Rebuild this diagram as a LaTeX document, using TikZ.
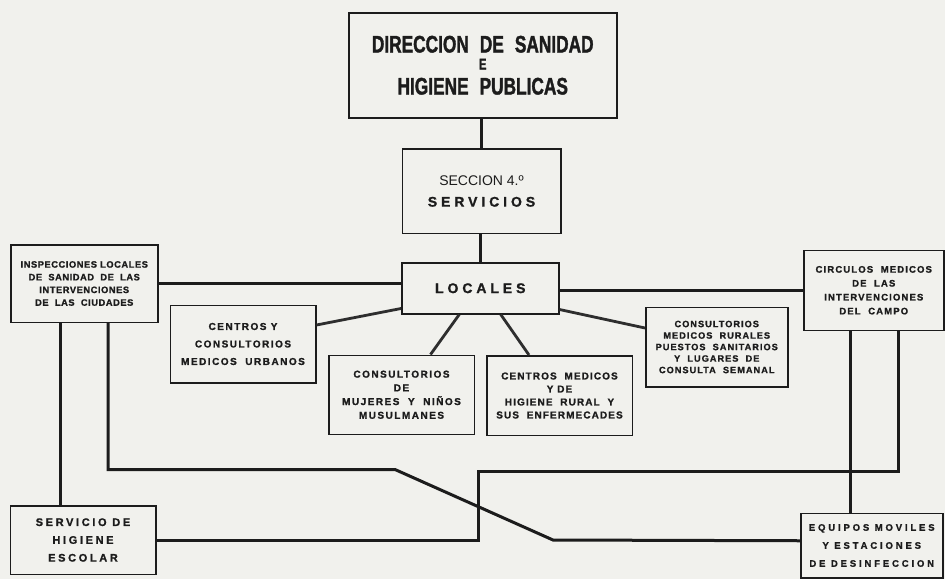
\documentclass[tikz,border=0pt]{standalone}
\usepackage{fontspec}
\setmainfont{Liberation Sans}
\newfontfamily\condfont[FakeStretch=0.72]{Liberation Sans}
\usetikzlibrary{calc}
\definecolor{ink}{RGB}{28,28,28}
\definecolor{paper}{RGB}{241,241,237}
\newcommand{\fs}[3]{\fontsize{#1}{#2}\selectfont\addfontfeatures{LetterSpace=#3,FakeBold=1.2}}
\begin{document}
\begin{tikzpicture}[x=1pt,y=-1pt,
  box/.style={draw=ink, line width=1.5pt, fill=paper, rectangle, anchor=north west,
              align=center, inner sep=0pt, text=ink},
  conn/.style={draw=ink, line width=3pt, line join=miter},
  spoke/.style={draw=ink!92, line width=2.8pt}]
\fill[paper] (0,0) rectangle (945,579);
\useasboundingbox (0,0) rectangle (945,579);

% boxes
\node[box, minimum width=268pt, minimum height=105pt,
      font=\condfont\bfseries\fontsize{24}{26}\selectfont\addfontfeatures{FakeBold=1.5}] (top) at (348,12)
  {DIRECCION\hspace{11pt}DE\hspace{11pt}SANIDAD\\[-9pt]{\fontsize{15.5}{12}\selectfont E}\\[-1pt]HIGIENE\hspace{11pt}PUBLICAS};
\node[box, minimum width=158.5pt, minimum height=84.5pt,
      font=\fontsize{14}{21.6}\selectfont] (sec) at (401.5,148)
  {SECCION 4.º\\{\bfseries\addfontfeatures{LetterSpace=28,FakeBold=1}SERVICIOS}};
\node[box, minimum width=157pt, minimum height=51pt,
      font=\bfseries\fs{14}{16}{28}] (loc) at (401,262) {LOCALES};
\node[box, minimum width=147pt, minimum height=77.5pt,
      font=\bfseries\fs{9.3}{12.7}{6}] (insp) at (10,244)
  {INSPECCIONES LOCALES\\DE\ \ SANIDAD\ \ DE\ \ LAS\\INTERVENCIONES\\DE\ \ LAS\ \ CIUDADES};
\node[box, minimum width=140pt, minimum height=80pt,
      font=\bfseries\fs{9.5}{13.9}{12}] (circ) at (803,249.5)
  {CIRCULOS\ \ MEDICOS\\DE\ \ LAS\\INTERVENCIONES\\DEL\ \ CAMPO};
\node[box, minimum width=145.5pt, minimum height=77.5pt,
      font=\bfseries\fs{10}{17.5}{15}] (cyc) at (169.5,304.5)
  {CENTROS Y\\CONSULTORIOS\\MEDICOS\ \ URBANOS};
\node[box, minimum width=145.5pt, minimum height=79pt,
      font=\bfseries\fs{10}{13.7}{15}] (muj) at (328,354.5)
  {CONSULTORIOS\\DE\\MUJERES\ \ Y\ \ NIÑOS\\MUSULMANES};
\node[box, minimum width=145.5pt, minimum height=79.5pt,
      font=\bfseries\fs{10}{13}{11}] (cmed) at (486,355)
  {CENTROS\ \ MEDICOS\\Y DE\\HIGIENE\ \ RURAL\ \ Y\\SUS\ \ ENFERMECADES};
\node[box, minimum width=142pt, minimum height=79.5pt,
      font=\bfseries\fs{9.2}{11.5}{11}] (rur) at (645,306.5)
  {CONSULTORIOS\\MEDICOS\ \ RURALES\\PUESTOS\ \ SANITARIOS\\Y\ \ LUGARES\ \ DE\\CONSULTA\ \ SEMANAL};
\node[box, minimum width=145.5pt, minimum height=68.5pt,
      font=\bfseries\fs{11}{17.8}{24}] (serv) at (9.5,505)
  {SERVICIO DE\\HIGIENE\\ESCOLAR};
\node[box, minimum width=142pt, minimum height=64.5pt,
      font=\bfseries\fs{9.5}{18}{30}] (equ) at (800,512.5)
  {EQUIPOS MOVILES\\Y ESTACIONES\\DE DESINFECCION};

% main vertical chain
\draw[conn] (sec.north) -- (sec.north |- top.south);
\draw[conn] (loc.north) -- (loc.north |- sec.south);
% horizontal arms
\draw[conn] (insp.east) -- (insp.east -| loc.west);
\draw[conn] (circ.west) -- (circ.west -| loc.east);
% spokes
\draw[spoke] ([yshift=6pt]loc.south west) -- ([yshift=-20.5pt]cyc.north east);
\draw[spoke] ([xshift=-21pt]loc.south) -- ([xshift=29pt]muj.north);
\draw[spoke] ([xshift=20.5pt]loc.south) -- ([xshift=-30.5pt]cmed.north);
\draw[spoke] ([yshift=5pt]loc.south east) -- ([yshift=-21.5pt]rur.north west);
% lower network
\draw[conn] ([xshift=-24.2pt]insp.south) -- ([xshift=-24.2pt]insp.south |- serv.north);
\draw[conn] ([xshift=23.8pt]insp.south) |- (395,469.5) -- (553,540) -- ([yshift=4.75pt]equ.west);
\draw[conn] (serv.east) -| (478,471.5) -| ([xshift=24.3pt]circ.south);
\draw[conn] ([xshift=-23pt]circ.south) -- ([xshift=-23pt]circ.south |- equ.north);
\end{tikzpicture}
\end{document}
